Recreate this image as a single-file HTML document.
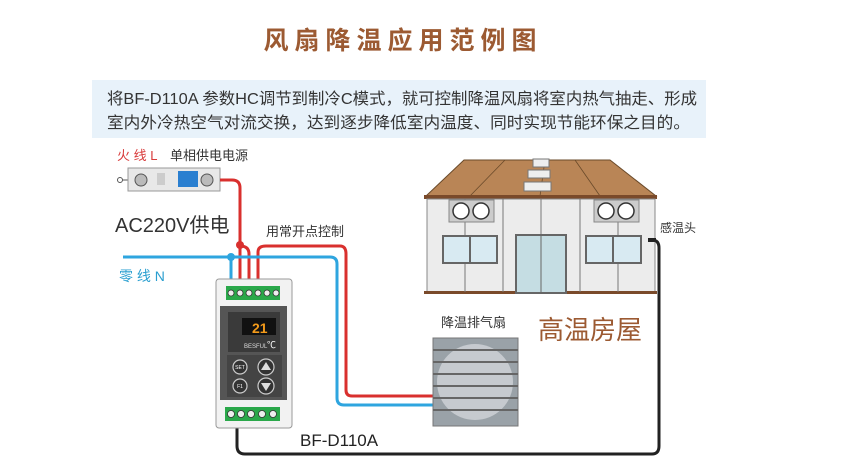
<!DOCTYPE html>
<html><head><meta charset="utf-8"><style>
html,body{margin:0;padding:0;background:#fff}
svg{display:block}
text{font-family:"Liberation Sans","Noto Sans CJK SC",sans-serif}
</style></head><body>
<svg width="846" height="475" viewBox="0 0 846 475" xmlns="http://www.w3.org/2000/svg">
<rect width="846" height="475" fill="#fff"/>
<text x="403" y="49" text-anchor="middle" font-size="25" font-weight="bold" fill="#9c5a32" letter-spacing="6">风扇降温应用范例图</text>
<rect x="92" y="80" width="614" height="58" fill="#e8f2fa"/>
<text x="107" y="104" font-size="16" fill="#333" textLength="590" lengthAdjust="spacingAndGlyphs">将BF-D110A 参数HC调节到制冷C模式，就可控制降温风扇将室内热气抽走、形成</text>
<text x="107" y="128" font-size="16" fill="#333" textLength="583" lengthAdjust="spacingAndGlyphs">室内外冷热空气对流交换，达到逐步降低室内温度、同时实现节能环保之目的。</text>

<text x="117" y="160" font-size="13" fill="#d83a3a">火 线 L</text>
<text x="170" y="160" font-size="13" fill="#333">单相供电电源</text>
<text x="115" y="232" font-size="20" fill="#333">AC220V供电</text>
<text x="119" y="281" font-size="14" fill="#2a9fd0">零 线 N</text>
<text x="266" y="236" font-size="13" fill="#333">用常开点控制</text>
<text x="660" y="232" font-size="12" fill="#333">感温头</text>
<text x="441" y="327" font-size="13" fill="#333">降温排气扇</text>
<text x="538" y="339" font-size="26" fill="#9c5a32">高温房屋</text>
<text x="300" y="446" font-size="17" fill="#222">BF-D110A</text>

<!-- breaker -->
<circle cx="120" cy="180" r="2.5" fill="#fff" stroke="#555"/>
<line x1="122" y1="180" x2="128" y2="180" stroke="#555"/>
<rect x="128" y="168" width="92" height="23" fill="#e8e8e8" stroke="#999"/>
<circle cx="141" cy="180" r="6" fill="#bbb" stroke="#555"/>
<circle cx="207" cy="180" r="6" fill="#bbb" stroke="#555"/>
<rect x="178" y="171" width="20" height="16" fill="#2a7fd0"/>
<rect x="157" y="173" width="8" height="12" fill="#ccc"/>

<!-- wires -->
<g fill="none" stroke-width="3">
<path d="M220 180 H232 Q240 180 240 188 V292" stroke="#d9302e"/>
<path d="M240 246 Q249 246 249 254 V292" stroke="#d9302e"/>
<path d="M258 292 V252 Q258 246 266 246 H340 Q346 246 346 254 V390 Q346 396 352 396 H433" stroke="#d9302e"/>
<path d="M123 257 H330 Q337 257 337 264 V398 Q337 405 344 405 H433" stroke="#2ea5df"/>
<path d="M231 257 V292" stroke="#2ea5df"/>
<path d="M237 420 V446 Q237 454 245 454 H652 Q659 454 659 446 V248 Q659 240 652 240 H648" stroke="#222"/>
</g>
<circle cx="240" cy="245" r="4" fill="#d9302e"/>
<circle cx="231" cy="257" r="4" fill="#2ea5df"/>

<!-- controller -->
<rect x="216" y="279" width="76" height="149" rx="3" fill="#f2f2f2" stroke="#999"/>
<rect x="226" y="286" width="54" height="14" fill="#2aa84a"/>
<rect x="225" y="407" width="55" height="14" fill="#2aa84a"/>
<g fill="#eee" stroke="#333" stroke-width="0.8">
<circle cx="231" cy="293" r="3"/><circle cx="240" cy="293" r="3"/><circle cx="249" cy="293" r="3"/><circle cx="258" cy="293" r="3"/><circle cx="267" cy="293" r="3"/><circle cx="276" cy="293" r="3"/>
<circle cx="231" cy="414" r="3.5"/><circle cx="241" cy="414" r="3.5"/><circle cx="251" cy="414" r="3.5"/><circle cx="262" cy="414" r="3.5"/><circle cx="273" cy="414" r="3.5"/>
</g>
<rect x="220" y="306" width="67" height="94" fill="#555"/>
<rect x="228" y="312" width="52" height="40" fill="#3a3a3a"/>
<rect x="242" y="318" width="34" height="17" fill="#111"/>
<text x="252" y="333" font-size="14" fill="#f39a1a" font-weight="bold">21</text>
<text x="267" y="348" font-size="9" fill="#fff">℃</text>
<text x="244" y="348" font-size="6" fill="#ddd">BESFUL</text>
<rect x="227" y="355" width="55" height="42" fill="#444"/>
<g fill="#333" stroke="#ccc" stroke-width="1.2">
<circle cx="240" cy="367" r="7"/><circle cx="266" cy="367" r="8"/><circle cx="240" cy="386" r="7"/><circle cx="266" cy="386" r="8"/>
</g>
<path d="M261 370 L266 362 L271 370Z M261 383 L266 391 L271 383Z" fill="#ddd"/>
<text x="240" y="369" font-size="5" fill="#fff" text-anchor="middle">SET</text>
<text x="240" y="388" font-size="5" fill="#fff" text-anchor="middle">F1</text>

<!-- house -->
<polygon points="464,160 610,160 656,196 426,196" fill="#b98556" stroke="#6a4a2a"/>
<g stroke="#6a4a2a" stroke-width="0.8"><line x1="505" y1="160" x2="470" y2="196"/><line x1="545" y1="160" x2="540" y2="196"/><line x1="575" y1="160" x2="600" y2="196"/></g>
<rect x="424" y="195" width="233" height="4" fill="#7a4a2a"/>
<rect x="427" y="199" width="228" height="93" fill="#ececec" stroke="#888"/>
<rect x="424" y="291" width="233" height="3" fill="#7a4a2a"/>
<g stroke="#777"><line x1="465" y1="199" x2="465" y2="292"/><line x1="503" y1="199" x2="503" y2="292"/><line x1="541" y1="199" x2="541" y2="292"/><line x1="580" y1="199" x2="580" y2="292"/><line x1="618" y1="199" x2="618" y2="292"/></g>
<rect x="533" y="159" width="16" height="8" fill="#eee" stroke="#777"/>
<rect x="528" y="170" width="22" height="8" fill="#eee" stroke="#777"/>
<rect x="524" y="182" width="27" height="9" fill="#eee" stroke="#777"/>
<rect x="449" y="200" width="45" height="22" fill="#ccc" stroke="#888"/>
<rect x="594" y="200" width="45" height="22" fill="#ccc" stroke="#888"/>
<g fill="#fff" stroke="#333" stroke-width="1.5"><circle cx="461" cy="211" r="8"/><circle cx="481" cy="211" r="8"/><circle cx="606" cy="211" r="8"/><circle cx="626" cy="211" r="8"/></g>
<rect x="443" y="236" width="54" height="27" fill="#d8eaf2" stroke="#666" stroke-width="2"/>
<rect x="586" y="236" width="55" height="27" fill="#d8eaf2" stroke="#666" stroke-width="2"/>
<line x1="470" y1="236" x2="470" y2="263" stroke="#666" stroke-width="2"/><line x1="613" y1="236" x2="613" y2="263" stroke="#666" stroke-width="2"/>
<rect x="516" y="235" width="50" height="58" fill="#c5dde3" stroke="#666" stroke-width="2"/>
<line x1="541" y1="235" x2="541" y2="293" stroke="#666"/>
<rect x="648" y="238" width="8" height="4" fill="#222"/>

<!-- fan -->
<rect x="433" y="338" width="85" height="88" fill="#9aa2a8" stroke="#777"/>
<circle cx="475" cy="382" r="38" fill="#d8dcdf" opacity="0.7"/>
<g stroke="#666" stroke-width="2">
<line x1="433" y1="350" x2="518" y2="350"/><line x1="433" y1="362" x2="518" y2="362"/><line x1="433" y1="374" x2="518" y2="374"/><line x1="433" y1="386" x2="518" y2="386"/><line x1="433" y1="398" x2="518" y2="398"/><line x1="433" y1="410" x2="518" y2="410"/></g>
</svg>
</body></html>
